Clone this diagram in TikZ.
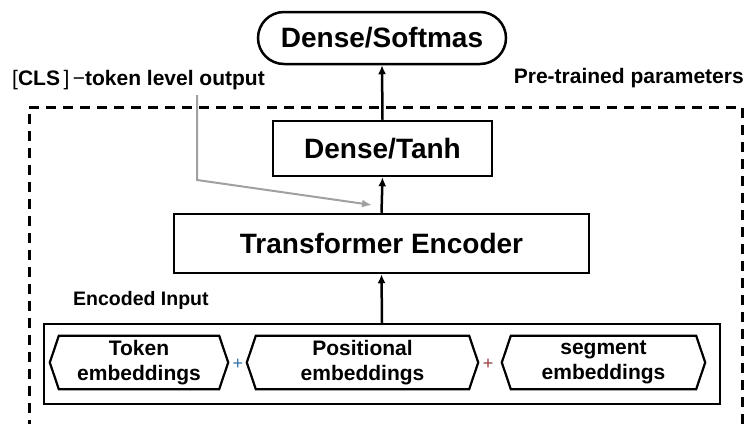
\documentclass[tikz,border=0pt]{standalone}
\usepackage{fontspec}
\setmainfont{Liberation Sans}
\usetikzlibrary{arrows.meta}
\definecolor{plusblue}{HTML}{2F6FA8}
\definecolor{plusred}{HTML}{9A3A3A}
\definecolor{clsgray}{HTML}{A0A0A0}
\begin{document}
\begin{tikzpicture}[x=1pt,y=-1pt,
  bigbox/.style={draw=black,line width=2.5pt,inner sep=0pt,
    font=\bfseries\fontsize{28}{30}\selectfont},
  hexnode/.style={inner sep=0pt,align=center,minimum height=53pt,
    font=\bfseries\fontsize{21}{25}\selectfont},
  hexline/.style={draw=black,line width=2.2pt,line join=miter},
  lbl/.style={inner sep=0pt,font=\bfseries\fontsize{21}{25}\selectfont},
  plussign/.style={inner sep=0pt,font=\fontsize{18}{18}\selectfont},
  flow/.style={draw=black,line width=2.5pt,-{Latex[length=9pt,width=8pt]}},
  clsflow/.style={draw=clsgray,line width=2pt,-{Latex[length=10pt,width=8pt]}},
  pretrained/.style={draw=black,line width=3pt,dash pattern=on 10pt off 7pt}
]
\useasboundingbox (0,0) rectangle (746,423);

% pre-trained dashed region (open at the bottom of the picture)
\draw[pretrained] (29,430) -- (29,107) -- (742,107) -- (742,430);

% labels
\node[lbl,anchor=west] (clslbl) at (12,80)
  {{\mdseries[}CLS{\mdseries\,]}{\mdseries\,−}token level output};
\node[lbl,anchor=east] (ptlbl) at (744,78) {Pre-trained parameters};
\node[lbl,anchor=west,font=\bfseries\fontsize{19.5}{22}\selectfont] (inlbl) at (73,300) {Encoded Input};

% main blocks
\node[bigbox,minimum width=248pt,minimum height=52pt,rounded corners=26pt] (soft) at (382,38) {Dense/Softmas};
\node[bigbox,minimum width=219pt,minimum height=55pt] (tanh) at (382.5,148.5) {Dense/Tanh};
\node[bigbox,minimum width=415pt,minimum height=59pt] (enc) at (381.5,243.5) {Transformer Encoder};
\node[draw=black,line width=2.5pt,minimum width=676pt,minimum height=80pt,inner sep=0pt] (inbox) at (382,364) {};

% embeddings
\node[hexnode,minimum width=178pt] (tok) at (139,362.5) {Token\\embeddings};
\node[hexnode,minimum width=231pt] (pos) at (362.5,362.5) {Positional\\embeddings};
\node[hexnode,minimum width=203pt] (seg) at (603.5,362.5) {segment\\embeddings};
\foreach \n in {tok,pos,seg}
  \draw[hexline] (\n.west) -- ([xshift=9pt]\n.north west) -- ([xshift=-9pt]\n.north east)
    -- (\n.east) -- ([xshift=-9pt]\n.south east) -- ([xshift=9pt]\n.south west) -- cycle;
\node[plussign,text=plusblue] (plusa) at (238,364) {+};
\node[plussign,text=plusred] (plusb) at (488,364) {+};

% connectors
\draw[flow] (inbox.north) -- (enc.south);
\draw[flow] (enc.north) -- (tanh.south);
\draw[flow] (tanh.north) -- (soft.south);

\coordinate (clsfrom) at (197,95);
\coordinate (clsbend) at (197,180);
\coordinate (clsto) at (372,205);
\draw[clsflow] (clsfrom) -- (clsbend) -- (clsto);
\end{tikzpicture}
\end{document}
